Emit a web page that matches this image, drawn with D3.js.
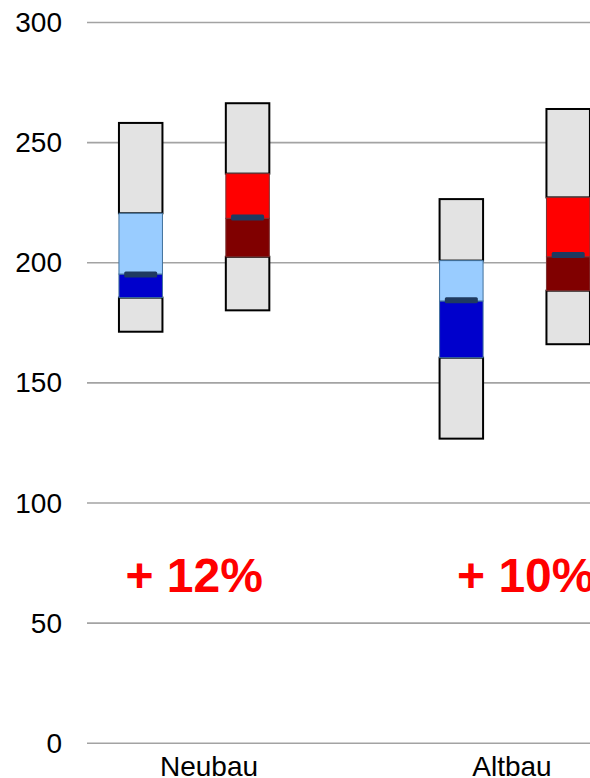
<!DOCTYPE html>
<html>
<head>
<meta charset="utf-8">
<script src="https://cdn.jsdelivr.net/npm/d3@7"></script>
<style>
  html, body { margin: 0; padding: 0; background: #ffffff; }
  svg { display: block; }
</style>
</head>
<body>
<script>
// ---------- data ----------
const categories = ["Neubau", "Altbau"];
const yTicks = [0, 50, 100, 150, 200, 250, 300];
// "heute" (blue) boxes
const nowMin    = [171.3, 126.8];
const nowQ1     = [185.5, 160.5];
const nowMedian = [195.3, 184.1];
const nowQ3     = [220.6, 200.9];
const nowMax    = [258.2, 226.5];
const nowMark   = [195.1, 184.4];
// "künftig" (red) boxes
const futMin    = [180.2, 166.1];
const futQ1     = [202.5, 188.4];
const futMedian = [218.5, 202.5];
const futQ3     = [237.1, 227.2];
const futMax    = [266.4, 264.0];
const futMark   = [218.8, 203.2];
const changes   = ["+ 12%", "+ 10%"];
const changeAt  = 63;

// ---------- layout ----------
const W = 590, H = 778;
const svg = d3.select("body").append("svg").attr("width", W).attr("height", H);
const font = "Arial, 'Liberation Sans', Helvetica, sans-serif";

const y = d3.scaleLinear().domain([0, 300]).range([743.3, 22.5]);
const slots = ["Neubau|0", "Neubau|1", "gap", "Altbau|0", "Altbau|1"];
const xs = d3.scalePoint().domain(slots).range([140.7, 568.2]);
const xCat = d3.scaleBand().domain(categories).range([57.5, 663.5]);
const boxW = 43.5;
const gridX0 = 87, gridX1 = W;

// gridlines
svg.append("g").selectAll("line").data(yTicks).join("line")
  .attr("x1", gridX0).attr("x2", gridX1)
  .attr("y1", d => y(d)).attr("y2", d => y(d))
  .attr("stroke", "#a3a3a3").attr("stroke-width", 1.6);

// y axis labels
const yAxis = d3.axisLeft(y).tickValues(yTicks).tickSize(0).tickPadding(25);
const gy = svg.append("g").attr("transform", `translate(${gridX0},0)`).call(yAxis);
gy.select(".domain").remove();
gy.selectAll("text").attr("font-family", font).attr("font-size", 28).attr("fill", "#000");

// x axis labels
const xAxis = d3.axisBottom(xCat).tickSize(0).tickPadding(0);
const gx = svg.append("g").attr("transform", `translate(0,776)`).call(xAxis);
gx.select(".domain").remove();
gx.selectAll("text").attr("font-family", font).attr("font-size", 28).attr("fill", "#000")
  .attr("dy", 0);

// boxes
const boxes = [];
categories.forEach((c, i) => {
  boxes.push({slot: c + "|0", min: nowMin[i], q1: nowQ1[i], med: nowMedian[i], q3: nowQ3[i], max: nowMax[i], mark: nowMark[i],
              lo: "#0000cc", hi: "#99ccff", edge: "#41719c"});
  boxes.push({slot: c + "|1", min: futMin[i], q1: futQ1[i], med: futMedian[i], q3: futQ3[i], max: futMax[i], mark: futMark[i],
              lo: "#800000", hi: "#ff0000", edge: "#7a3030"});
});

const gb = svg.append("g");
boxes.forEach(b => {
  const x0 = xs(b.slot) - boxW / 2;
  const seg = (a, z, fill, stroke, sw) => gb.append("rect")
    .attr("x", x0).attr("width", boxW)
    .attr("y", y(z)).attr("height", y(a) - y(z))
    .attr("fill", fill).attr("stroke", stroke).attr("stroke-width", sw);
  seg(b.min, b.q1, "#e3e3e3", "#000", 2);
  seg(b.q3, b.max, "#e3e3e3", "#000", 2);
  seg(b.q1, b.med, b.lo, b.edge, 1);
  seg(b.med, b.q3, b.hi, b.edge, 1);
  gb.append("rect")
    .attr("x", xs(b.slot) - 16.5).attr("width", 33)
    .attr("y", y(b.mark) - 3).attr("height", 6)
    .attr("rx", 1.5)
    .attr("fill", "#1f3a60");
});

// percentage annotations
const labelDx = [0, 11];
svg.append("g").selectAll("text").data(categories).join("text")
  .attr("x", (c, i) => (xs(c + "|0") + xs(c + "|1")) / 2 + labelDx[i])
  .attr("y", y(changeAt))
  .attr("text-anchor", "middle")
  .attr("font-family", font).attr("font-size", 48).attr("font-weight", "bold")
  .attr("fill", "#ff0000")
  .text((c, i) => changes[i]);
</script>
</body>
</html>
